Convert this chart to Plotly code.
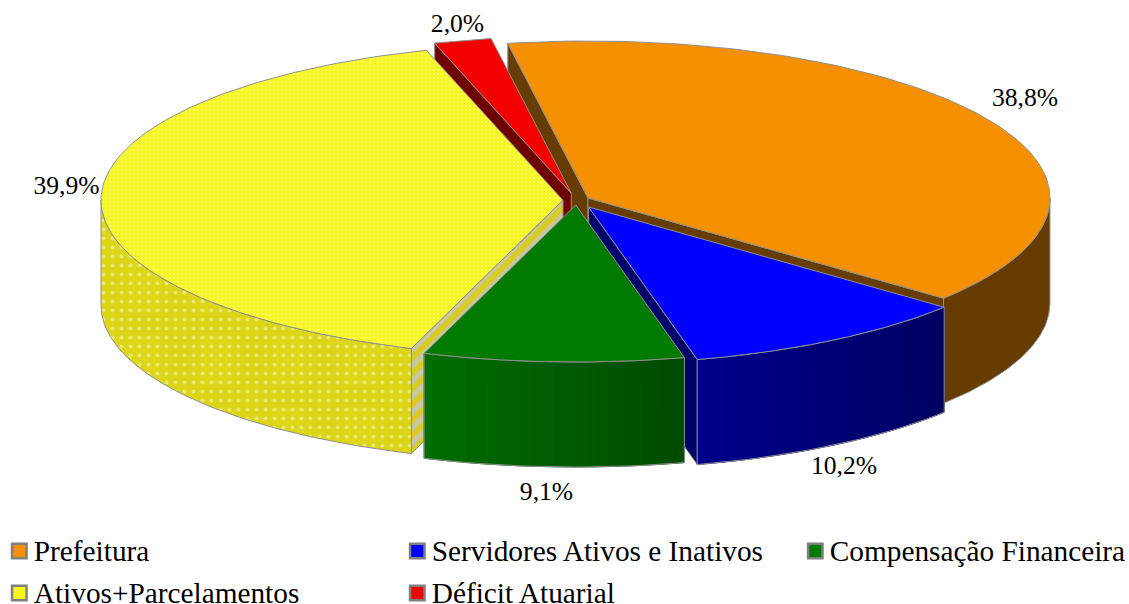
import math
import plotly.graph_objects as go

# ---- data ----
categories = ["Prefeitura", "Servidores Ativos e Inativos", "Compensação Financeira",
              "Ativos+Parcelamentos", "Déficit Atuarial"]
values = [38.8, 10.2, 9.1, 39.9, 2.0]

# ---- styling / layout ----
top_colors = ["#F59100", "#0000FF", "#007A00", "#F6F61C", "#F50000"]
wall_left = ["#663C00", "#00008C", "#006E00", "#DDD616", "#6E0000"]
wall_right = ["#663C00", "#000060", "#004A00", "#DDD616", "#6E0000"]
side_colors = ["#663C00", "#00006A", "#005000", "#D8CC20", "#6E0000"]
explode = [0.029, 0.05, 0.03, 0.029, 0.047]
label_xy = [(1025, 100), (844, 468), (546.5, 494), (66.5, 188), (457.5, 26)]
legend_xy = [(19.3, 551), (417.3, 551), (815.3, 551), (19.3, 593), (417.3, 593)]
LEGEND_TEXT_DX, LEGEND_TEXT_DY = 14.5, 3
draw_order = [0, 4, 3, 1, 2]
CX, CY, A, B, DEPTH = 576.4, 200.3, 462.0, 157.0, 105.0
START = -10.0
EDGE = "#8F8F8F"
FONT = "Liberation Serif"
FS = 25.6
LEGEND_FS = 29.3

fig = go.Figure()


def poly(xs, ys, color, line=EDGE, width=1.0, pattern=None):
    kw = {"fillpattern": pattern} if pattern else {}
    fig.add_trace(go.Scatter(x=xs + xs[:1], y=ys + ys[:1], mode="lines", fill="toself",
                             fillcolor=color, line=dict(color=line, width=width),
                             hoverinfo="skip", showlegend=False, **kw))


def hexmix(c1, c2, t):
    p = [int(c1[i:i + 2], 16) for i in (1, 3, 5)]
    q = [int(c2[i:i + 2], 16) for i in (1, 3, 5)]
    return "#%02X%02X%02X" % tuple(round(a + (b - a) * t) for a, b in zip(p, q))


def arc(ax, ay, t0, t1, n):
    ts = [t0 + (t1 - t0) * i / n for i in range(n + 1)]
    return ([ax + A * math.sin(math.radians(t)) for t in ts],
            [ay - B * math.cos(math.radians(t)) for t in ts])


dots_top = dict(shape=".", bgcolor="#F6F61C", fgcolor="#FFFF60", size=4, solidity=0.3, fillmode="replace")
dots_wall = dict(shape=".", bgcolor="#DDD616", fgcolor="#EAE67A", size=9, solidity=0.16, fillmode="replace")
stripes = dict(shape="/", bgcolor="#D8CC20", fgcolor="#C9C6A0", size=11, solidity=0.5, fillmode="replace")

# angular spans derived from values
spans = []
acc = START
total = sum(values)
for v in values:
    spans.append((acc, acc + v / total * 360.0))
    acc = spans[-1][1]

for i in draw_order:
    t0, t1 = spans[i]
    mid = math.radians((t0 + t1) / 2)
    ax = CX + explode[i] * A * math.sin(mid)
    ay = CY - explode[i] * B * math.cos(mid)
    is_yellow = categories[i].startswith("Ativos")

    # flat side walls along the two radii; only the ones that face the viewer
    for t, visible in ((t0, math.sin(math.radians(t0)) < 0), (t1, math.sin(math.radians(t1)) > 0)):
        if not visible:
            continue
        rx = ax + A * math.sin(math.radians(t))
        ry = ay - B * math.cos(math.radians(t))
        poly([ax, rx, rx, ax], [ay, ry, ry + DEPTH, ay + DEPTH], side_colors[i],
             pattern=stripes if is_yellow else None)

    # curved outer wall: only its front part (90..270 degrees) faces the viewer
    w0, w1 = max(t0, 90.0), min(t1, 270.0)
    if w1 > w0:
        if wall_left[i] == wall_right[i]:
            xs, ys = arc(ax, ay, w0, w1, 90)
            poly(xs + xs[::-1], ys + [y + DEPTH for y in ys[::-1]], wall_left[i],
                 pattern=dots_wall if is_yellow else None)
        else:
            n = 24
            xs, ys = arc(ax, ay, w0, w1, n)
            for k in range(n):
                # colours run from the left end of the wall (higher angle) to its right end
                col = hexmix(wall_right[i], wall_left[i], (k + 0.5) / n)
                poly([xs[k], xs[k + 1], xs[k + 1], xs[k]],
                     [ys[k], ys[k + 1], ys[k + 1] + DEPTH, ys[k] + DEPTH], col, line=col)
            fig.add_trace(go.Scatter(
                x=xs + xs[::-1] + xs[:1], y=ys + [y + DEPTH for y in ys[::-1]] + ys[:1],
                mode="lines", line=dict(color=EDGE, width=1), hoverinfo="skip", showlegend=False))

    # top face
    xs, ys = arc(ax, ay, t0, t1, 120)
    poly([ax] + xs, [ay] + ys, top_colors[i], pattern=dots_top if is_yellow else None)

# value labels
fig.add_trace(go.Scatter(
    x=[p[0] for p in label_xy], y=[p[1] for p in label_xy], mode="text",
    text=[f"{v:.1f}".replace(".", ",") + "%" for v in values],
    textposition="middle center", textfont=dict(family=FONT, size=FS, color="#000000"),
    hoverinfo="skip", showlegend=False, cliponaxis=False))

# legend
for i, name in enumerate(categories):
    lx, ly = legend_xy[i]
    fig.add_trace(go.Scatter(
        x=[lx], y=[ly], mode="markers", name=name,
        marker=dict(symbol="square", size=14.5, color=top_colors[i], line=dict(color="#808080", width=2.5)),
        hoverinfo="skip", showlegend=False))
    fig.add_trace(go.Scatter(
        x=[lx + LEGEND_TEXT_DX], y=[ly + LEGEND_TEXT_DY], mode="text", text=[name], textposition="middle right",
        textfont=dict(family=FONT, size=LEGEND_FS, color="#000000"), hoverinfo="skip",
        showlegend=False, cliponaxis=False))

fig.update_layout(
    width=1129, height=604, autosize=False,
    margin=dict(l=0, r=0, t=0, b=0),
    paper_bgcolor="#FFFFFF", plot_bgcolor="#FFFFFF", showlegend=False,
    xaxis=dict(range=[0, 1129], visible=False, fixedrange=True),
    yaxis=dict(range=[604, 0], visible=False, fixedrange=True),
)
fig.write_html("out.html", config={"displayModeBar": False},
               post_script="document.body.style.margin='0';document.documentElement.style.overflow='hidden';")
